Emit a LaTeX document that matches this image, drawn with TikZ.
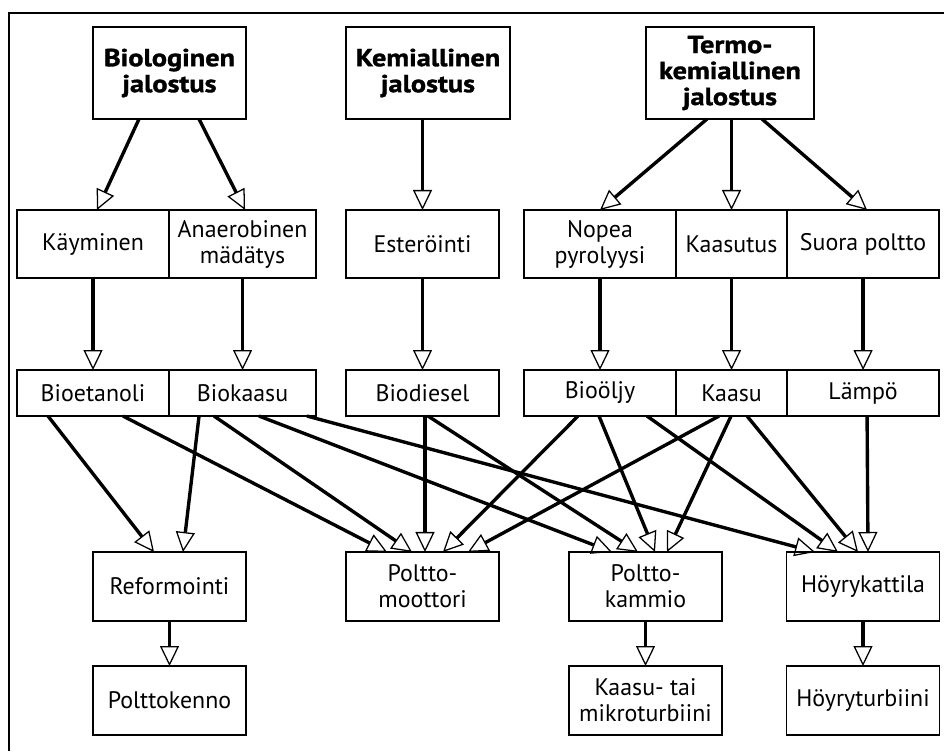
\documentclass[tikz,border=0pt]{standalone}
\usepackage{fontspec}
\setmainfont{PT Sans}
\newfontfamily\jalfont[FakeStretch=1.15, BoldFeatures={FakeBold=1.4}]{PT Sans}
\usetikzlibrary{arrows.meta,positioning,calc}

\begin{document}
\begin{tikzpicture}[x=0.025cm, y=-0.025cm,
  box/.style={rectangle, draw=black, line width=0.9pt, inner sep=0pt, outer sep=0pt,
              align=center, font=\fontsize{17}{18.5}\selectfont},
  topbox/.style={box, minimum height=2.3cm, font=\jalfont\bfseries\fontsize{17.5}{18.5}\selectfont},
  procbox/.style={box, minimum height=1.7cm},
  fuelbox/.style={box, minimum height=1.15cm},
  usebox/.style={box, minimum height=1.725cm, minimum width=3.825cm},
  arr/.style={-{Triangle[open, length=0.5cm, width=0.475cm, line width=0.9pt]}, line width=2.4pt},
  node distance=2.3cm
]
  \useasboundingbox (0,0) rectangle (944,751);
  \draw[line width=1.5pt] (944,13) -- (9,13) -- (9,751);

  % jalostustavat
  \node[topbox, minimum width=3.825cm] (bio) at (169.5,73) {Biologinen\\jalostus};
  \node[topbox, minimum width=4.1cm] (kem) at (428,73) {Kemiallinen\\jalostus};
  \node[topbox, minimum width=4.2cm] (ter) at (730,73) {Termo-\\kemiallinen\\jalostus};

  % prosessit
  \node[procbox, minimum width=3.8cm] (kay) at (93,244) {Käyminen};
  \node[procbox, minimum width=3.675cm, right=0pt of kay] (ana) {Anaerobinen\\mädätys};
  \node[procbox, minimum width=3.825cm] (est) at (422.5,244) {Esteröinti};
  \node[procbox, minimum width=3.8cm] (nop) at (600,244) {Nopea\\pyrolyysi};
  \node[procbox, minimum width=2.775cm, right=0pt of nop] (kas) {Kaasutus};
  \node[procbox, minimum width=3.8cm, right=0pt of kas] (suo) {Suora poltto};

  % tuotteet
  \node[fuelbox, minimum width=3.8cm, below=2.3cm of kay] (bet) {Bioetanoli};
  \node[fuelbox, minimum width=3.675cm, right=0pt of bet] (bka) {Biokaasu};
  \node[fuelbox, minimum width=3.825cm, below=2.3cm of est] (bdi) {Biodiesel};
  \node[fuelbox, minimum width=3.8cm, below=2.3cm of nop] (bol) {Bioöljy};
  \node[fuelbox, minimum width=2.775cm, right=0pt of bol] (kaa) {Kaasu};
  \node[fuelbox, minimum width=3.8cm, right=0pt of kaa] (lam) {Lämpö};

  % käyttö
  \node[usebox] (ref) at (169.5,586.5) {Reformointi};
  \node[usebox] (pmo) at (422.5,586.5) {Poltto-\\moottori};
  \node[usebox] (pka) at (645.5,586.5) {Poltto-\\kammio};
  \node[usebox] (hka) at (863,586.5) {Höyrykattila};
  \node[usebox, below=1.125cm of ref] (pke) {Polttokenno};
  \node[usebox, below=1.125cm of pka] (tur) {Kaasu- tai\\mikroturbiini};
  \node[usebox, below=1.125cm of hka] (htu) {Höyryturbiini};

  % jalostus -> prosessi
  \draw[arr] ($(bio.south)+(-30.5,0)$) -- ($(kay.north)+(4,0)$);
  \draw[arr] ($(bio.south)+(29.5,0)$) -- ($(ana.north)+(2.5,0)$);
  \draw[arr] (est.north |- kem.south) -- (est.north);
  \draw[arr] ($(ter.south)+(-23,0)$) -- (nop.north);
  \draw[arr] (kas.north |- ter.south) -- (kas.north);
  \draw[arr] ($(ter.south)+(32,0)$) -- ($(suo.north)+(4,0)$);

  % prosessi -> tuote
  \draw[arr] (kay) -- (bet);
  \draw[arr] (ana) -- (bka);
  \draw[arr] (est) -- (bdi);
  \draw[arr] (nop) -- (bol);
  \draw[arr] (kas) -- (kaa);
  \draw[arr] (suo) -- (lam);

  % tuote -> käyttö
  \draw[arr] ($(bet.south)+(-45,0)$) -- ($(ref.north)+(-15.5,0)$);
  \draw[arr] ($(bet.south)+(30,0)$) -- ($(pmo.north)+(-35.5,0)$);
  \draw[arr] ($(bka.south)+(-43.5,0)$) -- ($(ref.north)+(13.5,0)$);
  \draw[arr] ($(bka.south)+(-28.5,0)$) -- ($(pmo.north)+(-10.5,0)$);
  \draw[arr] ($(bka.south)+(16.5,0)$) -- ($(pka.north)+(-33.5,0)$);
  \draw[arr] ($(bka.south)+(64.5,0)$) -- ($(hka.north)+(-48,0)$);
  \draw[arr] ($(bdi.south)+(2.5,0)$) -- ($(pmo.north)+(2.5,0)$);
  \draw[arr] ($(bdi.south)+(5.5,0)$) -- ($(pka.north)+(-7.5,0)$);
  \draw[arr] ($(bol.south)+(-22,0)$) -- ($(pmo.north)+(20.5,0)$);
  \draw[arr] ($(bol.south)+(-1,0)$) -- ($(pka.north)+(9.5,0)$);
  \draw[arr] ($(bol.south)+(47,0)$) -- ($(hka.north)+(-25,0)$);
  \draw[arr] ($(kaa.south)+(-12.5,0)$) -- ($(pmo.north)+(45.5,0)$);
  \draw[arr] ($(kaa.south)+(-0.5,0)$) -- ($(pka.north)+(21.5,0)$);
  \draw[arr] ($(kaa.south)+(15.5,0)$) -- ($(hka.north)+(-5,0)$);
  \draw[arr] ($(lam.south)+(4,0)$) -- ($(hka.north)+(5,0)$);

  % käyttö -> laite
  \draw[arr] (ref) -- (pke);
  \draw[arr] (pka) -- (tur);
  \draw[arr] (hka) -- (htu);
\end{tikzpicture}
\end{document}
